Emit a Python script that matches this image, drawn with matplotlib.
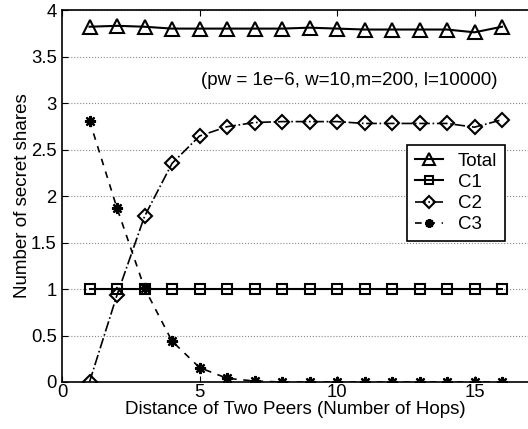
import numpy as np
import matplotlib
matplotlib.use('Agg')
import matplotlib.pyplot as plt

plt.rcParams['font.family'] = ['Liberation Sans', 'DejaVu Sans']

# Daten
hops = np.arange(1, 17)
total = [3.82, 3.83, 3.82, 3.80, 3.80, 3.80, 3.80, 3.80, 3.81, 3.80, 3.79, 3.79, 3.79, 3.79, 3.76, 3.82]
c1 = [1.0] * 16
c2 = [0.0, 0.935, 1.78, 2.35, 2.645, 2.745, 2.79, 2.80, 2.80, 2.80, 2.78, 2.78, 2.78, 2.78, 2.74, 2.82]
c3 = [2.81, 1.87, 1.01, 0.44, 0.155, 0.04, 0.01, 0.0, 0.0, 0.0, 0.0, 0.0, 0.0, 0.0, 0.0, 0.0]

xticks = [0, 5, 10, 15]
yticks = [0, 0.5, 1, 1.5, 2, 2.5, 3, 3.5, 4]

fig = plt.figure(figsize=(5.28, 4.29), dpi=100)
# Achse etwas über den rechten Rand hinaus (wie im Original abgeschnitten)
ax = fig.add_axes([62/528, 47/429, 467.5/528, 372/429])

ax.plot(hops, total, color='black', linewidth=1.5, linestyle='-',
        marker='^', markersize=10, markerfacecolor='none', markeredgewidth=1.5, label='Total')
ax.plot(hops, c1, color='black', linewidth=1.5, linestyle='-',
        marker='s', markersize=6.5, markerfacecolor='none', markeredgewidth=1.5, label='C1')
ax.plot(hops, c2, color='black', linewidth=1.2, linestyle='-.',
        marker='D', markersize=7.5, markerfacecolor='none', markeredgewidth=1.5, label='C2')
ax.plot(hops, c3, color='black', linewidth=1.2, linestyle='--', dashes=(4, 4),
        marker=(8, 2, 0), markersize=8, markeredgewidth=1.6, label='C3')

ax.set_xlim(0, 17)
ax.set_ylim(0, 4)
ax.set_xticks(xticks)
ax.set_yticks(yticks)
ax.set_yticklabels(['0', '0.5', '1', '1.5', '2', '2.5', '3', '3.5', '4'])
ax.tick_params(direction='in', labelsize=13.3, length=4, width=0.8, top=True, right=False)
ax.tick_params(axis='x', pad=1.5)
ax.tick_params(axis='y', pad=3.8)
ax.yaxis.grid(True, linestyle=':', color='#888888', linewidth=0.8)
ax.set_axisbelow(True)
for s in ax.spines.values():
    s.set_linewidth(1.2)

ax.set_xlabel('Distance of Two Peers (Number of Hops)', fontsize=13.5, labelpad=0)
ax.set_ylabel('Number of secret shares', fontsize=13.5, labelpad=0)

ax.text(15.82, 3.24, '(pw = 1e\u22126, w=10,m=200, l=10000)', fontsize=13.5, ha='right', va='center')

leg = ax.legend(loc='upper left', bbox_to_anchor=((407-62)/467.5, (382-145)/372),
                fontsize=13.5, frameon=True, fancybox=False, edgecolor='black',
                framealpha=1, handlelength=1.5, handletextpad=0.8, borderpad=0.4,
                labelspacing=0.22, borderaxespad=0, markerscale=0.8)
leg.get_frame().set_linewidth(1.2)

fig.savefig('out.png', dpi=100)
